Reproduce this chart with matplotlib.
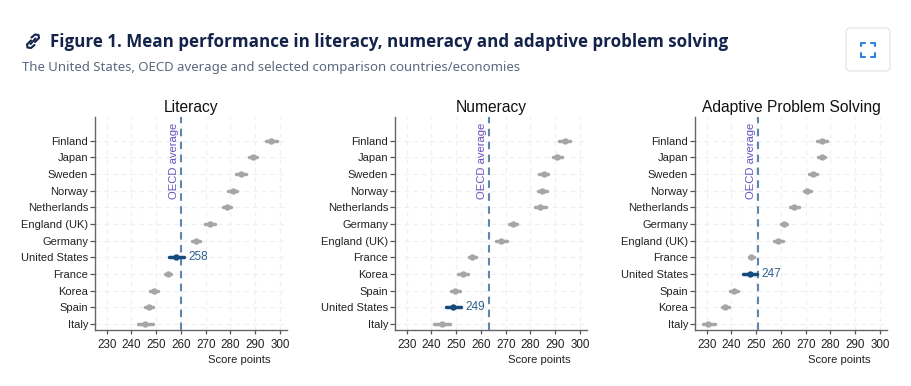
import matplotlib
matplotlib.use("Agg")
import matplotlib.pyplot as plt
from matplotlib.patches import FancyBboxPatch
from matplotlib.lines import Line2D

W, H = 911, 386

# Literacy
lit_names = ["Finland", "Japan", "Sweden", "Norway", "Netherlands", "England (UK)",
             "Germany", "United States", "France", "Korea", "Spain", "Italy"]
lit_mean = [296.5, 289.2, 284.1, 280.9, 278.6, 271.6, 266.1, 258.1, 254.8, 249.0, 247.2, 245.3]
lit_low = [294.2, 287.6, 282.2, 279.1, 276.8, 269.6, 264.6, 255.3, 253.7, 247.5, 245.6, 242.5]
lit_high = [298.8, 290.8, 286.1, 282.8, 280.3, 273.7, 267.7, 261.1, 256.0, 250.6, 248.8, 248.6]
lit_oecd = 260.0

# Numeracy
num_names = ["Finland", "Japan", "Sweden", "Norway", "Netherlands", "Germany",
             "England (UK)", "France", "Korea", "Spain", "United States", "Italy"]
num_mean = [293.8, 290.7, 285.3, 284.8, 283.8, 272.9, 268.2, 256.5, 252.6, 249.5, 248.7, 244.3]
num_low = [291.5, 289.1, 283.3, 283.0, 281.7, 271.5, 266.2, 255.2, 250.9, 247.8, 245.7, 241.0]
num_high = [296.1, 292.6, 287.2, 286.7, 286.1, 274.4, 270.6, 257.9, 254.6, 251.5, 251.8, 247.6]
num_oecd = 263.1

# Adaptive problem solving
aps_names = ["Finland", "Japan", "Sweden", "Norway", "Netherlands", "Germany",
             "England (UK)", "France", "United States", "Spain", "Korea", "Italy"]
aps_mean = [276.6, 276.4, 272.8, 270.6, 265.4, 261.1, 258.9, 247.9, 247.4, 240.9, 237.5, 230.5]
aps_low = [274.7, 275.0, 271.2, 269.2, 263.6, 259.9, 257.2, 247.0, 244.8, 239.3, 236.2, 228.4]
aps_high = [278.6, 277.9, 274.5, 272.3, 267.1, 262.4, 260.7, 249.1, 250.3, 242.7, 239.0, 233.4]
aps_oecd = 250.6

x_ticks = [230, 240, 250, 260, 270, 280, 290, 300]

plt.rcParams["font.family"] = ["Liberation Sans", "DejaVu Sans"]
fig = plt.figure(figsize=(W / 100, H / 100), dpi=100, facecolor="white")


def panel(left, title, names, mean, low, high, oecd):
    ax = fig.add_axes([left / W, 1 - 330.3 / H, 191.4 / W, 213.3 / H])
    ax.set_xlim(225.4, 302.7)
    ax.set_ylim(len(names) - 1 + 0.38, -1.42)
    ax.set_xticks(x_ticks)
    ax.set_yticks(range(len(names)))
    ax.set_yticklabels(names)
    ax.tick_params(axis="y", length=3.4, width=0.9, color="#555555", labelsize=8.0, pad=1.7, labelcolor="#222222")
    ax.tick_params(axis="x", length=2.7, width=0.9, color="#555555", labelsize=8.4, pad=3.9, labelcolor="#222222")
    ax.grid(True, color="#f0f0f0", lw=0.9, ls=(0, (4, 3)))
    ax.set_axisbelow(True)
    for s in ["top", "right"]:
        ax.spines[s].set_visible(False)
    for s in ["left", "bottom"]:
        ax.spines[s].set_color("#666666")
        ax.spines[s].set_linewidth(1.0)

    ax.axvline(oecd, color="#5f86ab", lw=1.5, ls=(0, (3.6, 2.6)), zorder=4)
    ax.annotate("OECD average", xy=(oecd, 0.615), xycoords=("data", "axes fraction"),
                xytext=(-1.5, 0), textcoords="offset points", rotation=90,
                ha="right", va="bottom", fontsize=8.1, color="#6a4fc0")

    for i, name in enumerate(names):
        us = name == "United States"
        col = "#154a7d" if us else "#a6a6a6"
        ax.plot([low[i], high[i]], [i, i], color=col, lw=2.5, solid_capstyle="round", zorder=5)
        ax.plot(mean[i], i, "o", color=col, ms=4.6, mew=0, zorder=6)
        if us:
            ax.annotate(f"{mean[i]:.0f}", xy=(high[i], i), xytext=(3.2, 0), textcoords="offset points",
                        ha="left", va="center", fontsize=8.5, color="#2d5f8e", zorder=7)

    ax.set_title(title, fontsize=11.25, color="#111111", pad=3.3)
    ax.set_xlabel("Score points", fontsize=8.1, color="#222222", x=0.75, labelpad=2.2)
    return ax


panel(95.3, "Literacy", lit_names, lit_mean, lit_low, lit_high, lit_oecd)
panel(395.3, "Numeracy", num_names, num_mean, num_low, num_high, num_oecd)
panel(695.3, "Adaptive Problem Solving", aps_names, aps_mean, aps_low, aps_high, aps_oecd)

# heading
fig.text(50 / W, 1 - 47 / H, "Figure 1. Mean performance in literacy, numeracy and adaptive problem solving",
         fontsize=12.22, fontweight="bold", fontfamily="Open Sans", color="#14234a", va="baseline")
fig.text(22 / W, 1 - 71 / H, "The United States, OECD average and selected comparison countries/economies",
         fontsize=9.5, fontfamily="Noto Sans", color="#5b6880", va="baseline")


def px_line(xs, ys, **kw):
    fig.add_artist(Line2D([x / W for x in xs], [1 - y / H for y in ys], transform=fig.transFigure, **kw))


# link icon
link = dict(color="#14234a", lw=1.5, solid_capstyle="round")
px_line([31, 27, 27.5, 31, 34.5], [40.5, 44.5, 47.5, 48, 45], **link)
px_line([35, 39, 38.5, 35, 31.5], [42, 38, 35, 34.5, 37.5], **link)
px_line([30.5, 35.5], [44, 38.5], **link)

# expand button
fig.add_artist(FancyBboxPatch((846 / W, 1 - 71 / H), 44 / W, 43 / H, transform=fig.transFigure,
                              boxstyle="round,pad=0,rounding_size=0.005", fc="white", ec="#e3e6ec", lw=0.9,
                              mutation_aspect=W / H))
blue = dict(color="#2f80e4", lw=1.5, solid_capstyle="round")
px_line([861, 861, 865], [46, 43, 43], **blue)
px_line([871, 875, 875], [43, 43, 46], **blue)
px_line([861, 861, 865], [53, 57, 57], **blue)
px_line([871, 875, 875], [57, 57, 53], **blue)

fig.savefig("out.png", dpi=100)
